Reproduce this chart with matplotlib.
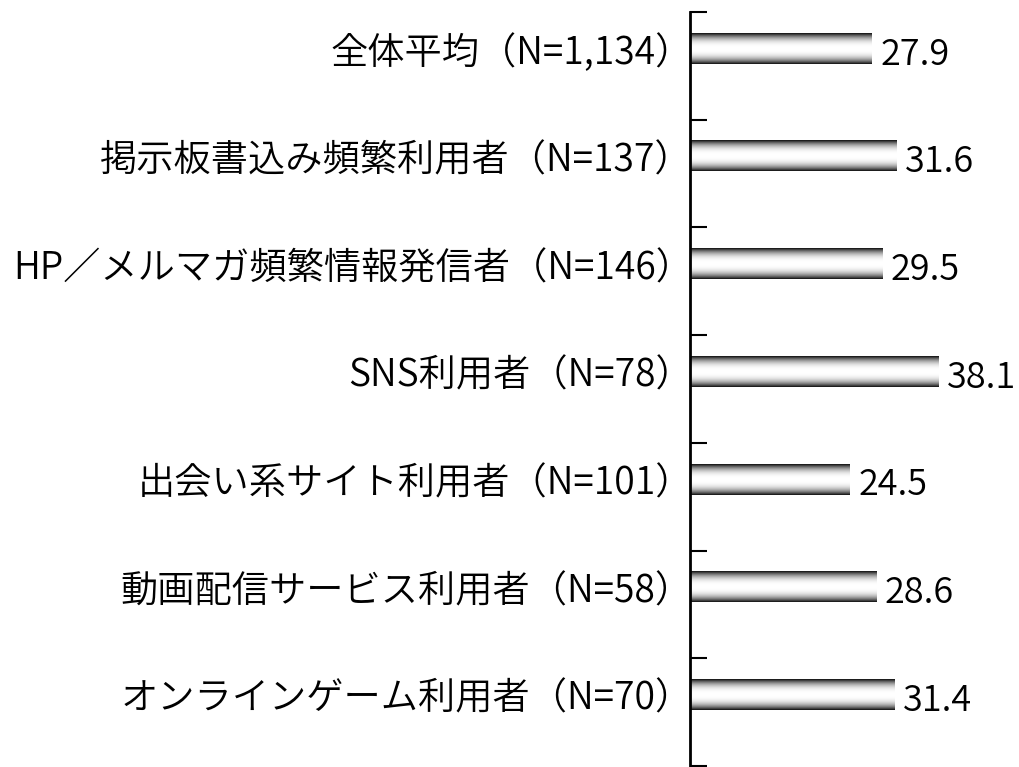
import matplotlib
matplotlib.use('Agg')
import matplotlib.pyplot as plt
import numpy as np

plt.rcParams['font.family'] = ['Noto Sans CJK JP', 'DejaVu Sans']

# データ
labels = ['全体平均（N=1,134）', '掲示板書込み頻繁利用者（N=137）', 'HP／メルマガ頻繁情報発信者（N=146）',
          'SNS利用者（N=78）', '出会い系サイト利用者（N=101）', '動画配信サービス利用者（N=58）',
          'オンラインゲーム利用者（N=70）']
values = [27.9, 31.6, 29.5, 38.1, 24.5, 28.6, 31.4]

fig = plt.figure(figsize=(10.2, 7.67), dpi=100)
ax = fig.add_axes([0.6765, 0.0013, 0.3235, 0.983])

n = len(values)
pos = np.arange(n) + 0.34
h = 0.28

# 円筒風のグラデーション
t = np.linspace(0, 1, 64)
grad = 1 - np.abs(2 * t - 1) ** 2.6
grad = (0.07 + 0.93 * grad).reshape(-1, 1)

bars = ax.barh(pos, values, height=h, color='none', edgecolor='none')
for b in bars:
    x0, y0 = b.get_x(), b.get_y()
    w, hh = b.get_width(), b.get_height()
    ax.imshow(grad, cmap='gray', vmin=0, vmax=1, aspect='auto',
              extent=(x0, x0 + w, y0 + hh, y0), interpolation='bilinear', zorder=2)
    ax.text(x0 + w + 1.3, y0 + hh / 2 + 0.05, f'{w:.1f}', va='center', ha='left',
            fontsize=26, fontweight=350)

ax.set_xlim(0, 50.6)
ax.set_ylim(n, 0)
ax.set_yticks(pos)
ax.set_yticklabels(labels, fontsize=26.8, fontweight=350)
ax.tick_params(axis='y', length=0, pad=-2)
ax.set_yticks(np.arange(n + 1), minor=True)
ax.tick_params(axis='y', which='minor', direction='in', length=12, width=1.5)
ax.set_xticks([])
for s in ['top', 'right', 'bottom']:
    ax.spines[s].set_visible(False)
ax.spines['left'].set_linewidth(2)

fig.savefig('out.png', dpi=100)
